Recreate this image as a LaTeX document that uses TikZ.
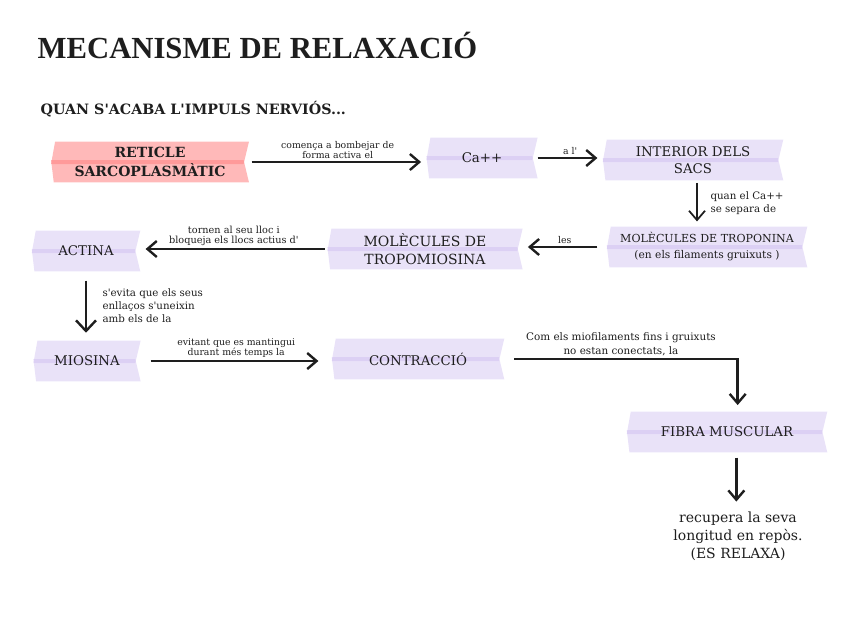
\documentclass[tikz,border=0pt]{standalone}
\usepackage{fontspec}
\setmainfont{DejaVu Serif}
\newfontfamily\titlefont{Liberation Serif Bold}
\usetikzlibrary{arrows.meta,positioning,backgrounds}
\definecolor{lila}{HTML}{C9B6EE}
\definecolor{rosa}{HTML}{FF8080}
\definecolor{tinta}{HTML}{1E1E1E}
\tikzset{
	caixa/.style={align=center,inner sep=0,text=tinta,minimum height=30pt,font=\fontsize{10}{13}\selectfont},
	fletxa/.style={line width=1.8pt,-{Straight Barb[length=7pt,width=12pt]},draw=tinta,shorten <=2pt,shorten >=4pt},
	prima/.style={fletxa,line width=1.3pt},
	nota/.style={font=\fontsize{7}{7.5}\selectfont,align=center,text=tinta,inner sep=1.5pt},
	notagran/.style={nota,font=\fontsize{7.7}{9.75}\selectfont,align=left},
}
\newcommand{\cinta}[2]{%
	\fill[#2] ([xshift=3pt]#1.north west) -- (#1.north east) -- ([xshift=-4pt,yshift=-1.5pt]#1.east) -- ([yshift=-1.5pt]#1.west) -- cycle;
	\fill[#2] ([yshift=1.5pt]#1.west) -- ([xshift=-4pt,yshift=1.5pt]#1.east) -- (#1.south east) -- ([xshift=2pt]#1.south west) -- cycle;
}
\begin{document}
\begin{tikzpicture}[x=0.75pt,y=-0.75pt]
	\useasboundingbox (0,0) rectangle (848,636);
	\node[anchor=west,text=tinta,font=\titlefont\fontsize{23}{26}\selectfont] (titol) at (33,45) {MECANISME DE RELAXACIÓ};
	\node[anchor=west,text=tinta,font=\bfseries\fontsize{10.7}{13}\selectfont] (subtitol) at (36,109) {QUAN S\textquotesingle ACABA L\textquotesingle IMPULS NERVIÓS...};

	\node[caixa,minimum width=148pt,font=\bfseries\fontsize{10.5}{14}\selectfont] (reticle) at (150,162) {RETICLE\\SARCOPLASMÀTIC};
	\node[caixa,minimum width=83pt] (calci) at (482,158) {Ca++};
	\node[caixa,minimum width=135pt] (sacs) at (693,160) {INTERIOR DELS\\SACS};
	\node[caixa,minimum width=150pt,font=\fontsize{8.3}{12}\selectfont] (troponina) at (707,247) {MOLÈCULES DE TROPONINA\\{\fontsize{8}{12}\selectfont(en els filaments gruixuts )}};
	\node[caixa,minimum width=146pt,font=\fontsize{10.5}{14}\selectfont] (tropomiosina) at (425,249) {MOLÈCULES DE\\TROPOMIOSINA};
	\node[caixa,minimum width=81pt] (actina) at (86,251) {ACTINA};
	\node[caixa,minimum width=80pt] (miosina) at (87,361) {MIOSINA};
	\node[caixa,minimum width=129pt] (contraccio) at (418,359) {CONTRACCIÓ};
	\node[caixa,minimum width=150pt] (fibra) at (727,432) {FIBRA MUSCULAR};
	\node[align=center,text=tinta,font=\fontsize{10.5}{13.5}\selectfont] (repos) at (738,536) {recupera la seva\\longitud en repòs.\\(ES RELAXA)};

	\begin{scope}[on background layer]
		\cinta{reticle}{rosa,fill opacity=.55}
		\foreach \n in {calci,sacs,troponina,tropomiosina,actina,miosina,contraccio,fibra} {\cinta{\n}{lila,fill opacity=.4}}
	\end{scope}

	\draw[fletxa] (reticle.east) -- (reticle.east -| calci.west) node[nota,midway,above] {comença a bombejar de\\forma activa el};
	\draw[fletxa,shorten <=0pt] (calci.east) -- (calci.east -| sacs.west) node[nota,midway,above] {a l\textquotesingle};
	\draw[prima] ([xshift=3pt]sacs.south) -- ([xshift=3pt]sacs.south |- troponina.north) node[notagran,midway,right=8pt] {quan el Ca++\\se separa de};
	\draw[fletxa,shorten <=7pt] (troponina.west) -- (troponina.west -| tropomiosina.east) node[nota,midway,above] {les};
	\draw[fletxa] (tropomiosina.west) -- (tropomiosina.west -| actina.east) node[nota,midway,above,font=\fontsize{7.3}{7.5}\selectfont] {tornen al seu lloc i\\bloqueja els llocs actius d\textquotesingle};
	\draw[fletxa,shorten <=7pt,shorten >=6pt,-{Straight Barb[length=8pt,width=15pt]}] (actina.south) -- (actina.south |- miosina.north) node[notagran,midway,right=10pt] {s\textquotesingle evita que els seus\\enllaços s\textquotesingle uneixin\\amb els de la};
	\draw[fletxa,shorten <=7.5pt,shorten >=10pt] (miosina.east) -- (miosina.east -| contraccio.west) node[nota,midway,above] {evitant que es mantingui\\durant més temps la};
	\draw[fletxa,shorten <=7.5pt,shorten >=5pt] (contraccio.east) -| ([xshift=8pt]fibra.north) node[nota,pos=.25,above,font=\fontsize{7.8}{10.5}\selectfont] {Com els miofilaments fins i gruixuts\\no estan conectats, la};
	\draw[fletxa,shorten <=4pt] ([xshift=7pt]fibra.south) -- ([xshift=7pt]fibra.south |- repos.north);
\end{tikzpicture}
\end{document}
